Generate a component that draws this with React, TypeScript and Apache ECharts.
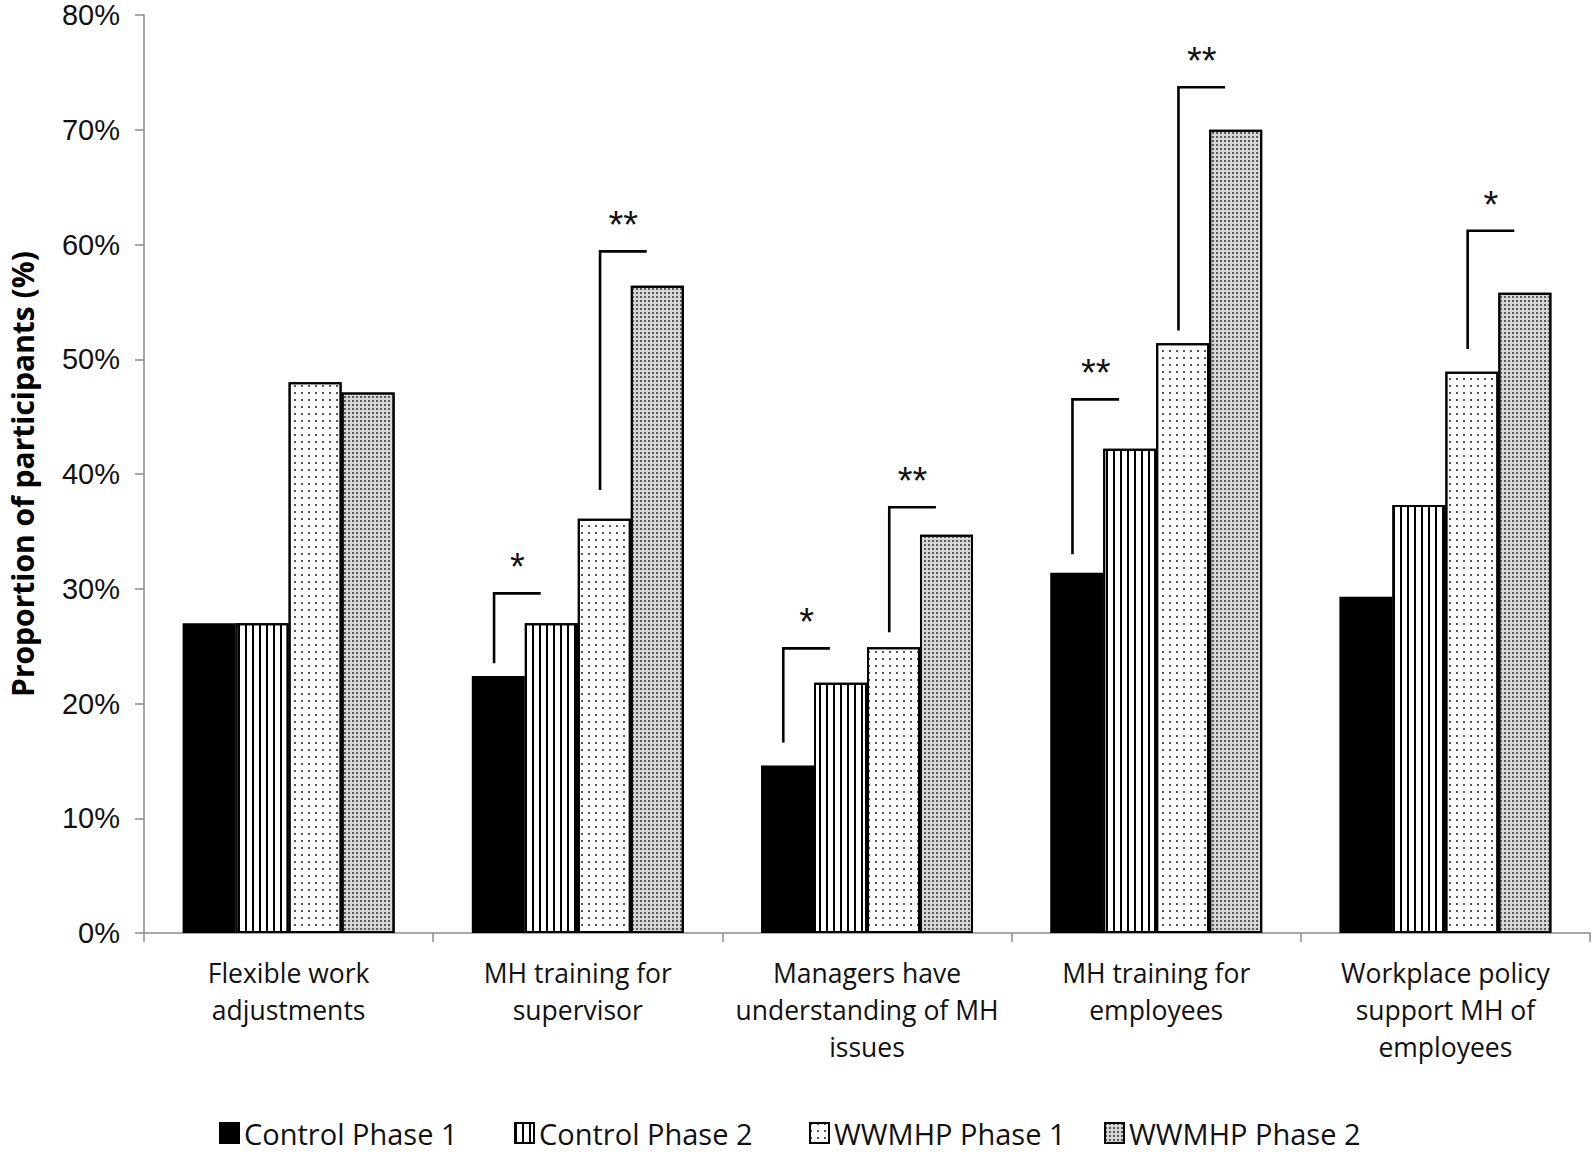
import React, { useEffect, useRef } from "react";
import * as echarts from "echarts";

const categories = [
  "Flexible work\nadjustments",
  "MH training for\nsupervisor",
  "Managers have\nunderstanding of MH\nissues",
  "MH training for\nemployees",
  "Workplace policy\nsupport MH of\nemployees",
];
const seriesNames = ["Control Phase 1", "Control Phase 2", "WWMHP Phase 1", "WWMHP Phase 2"];
const controlPhase1 = [27.0, 22.4, 14.6, 31.4, 29.3];
const controlPhase2 = [27.0, 27.0, 21.8, 42.2, 37.3];
const wwmhpPhase1 = [48.0, 36.1, 24.9, 51.4, 48.9];
const wwmhpPhase2 = [47.1, 56.4, 34.7, 70.0, 55.8];
const yTicks = [0, 10, 20, 30, 40, 50, 60, 70, 80];

// significance brackets: [category index, lower bar index, bracket bottom %, bracket top %]
const brackets = [
  [1, 0, 23.5, 29.6],
  [1, 2, 38.6, 59.4],
  [2, 0, 16.6, 24.8],
  [2, 2, 26.2, 37.1],
  [3, 0, 33.0, 46.5],
  [3, 2, 52.5, 73.7],
  [4, 2, 50.9, 61.2],
];
const bracketLabels = ["*", "**", "*", "**", "**", "**", "*"];

const CAT_GAP = 0.267;
const FONT = "Open Sans";

const styles = [
  { color: "#000000" },
  {
    color: "#ffffff",
    decal: { symbol: "rect", symbolSize: 1, color: "#000000", dashArrayX: [1.6, 4.2], dashArrayY: [10, 0] },
  },
  {
    color: "#ffffff",
    decal: { symbol: "rect", symbolSize: 1, color: "#555555", dashArrayX: [1.5, 4.4], dashArrayY: [1.5, 4.4] },
  },
  {
    color: "#d6d6d6",
    decal: { symbol: "rect", symbolSize: 1, color: "#5a5a5a", dashArrayX: [1.4, 1.6], dashArrayY: [1.4, 1.6] },
  },
];

const dataSets = [controlPhase1, controlPhase2, wwmhpPhase1, wwmhpPhase2];
const legendLefts = [219, 514, 809, 1104];

export default function App() {
  const ref = useRef<HTMLDivElement>(null);
  useEffect(() => {
    if (!ref.current) return;
    const chart = echarts.init(ref.current, undefined, { renderer: "svg" });
    const barSeries = dataSets.map((d, i) => ({
      name: seriesNames[i],
      type: "bar",
      data: d,
      barGap: "0%",
      barCategoryGap: CAT_GAP * 100 + "%",
      itemStyle: { ...styles[i], borderColor: "#000", borderWidth: 2 },
      emphasis: { disabled: true },
      z: 2,
    }));
    const bracketSeries = {
      type: "custom",
      data: brackets,
      encode: { x: 0, y: [2, 3] },
      z: 5,
      silent: true,
      renderItem: (params: any, api: any) => {
        const cat = api.value(0);
        const b = api.value(1);
        const center = api.coord([cat, 0]);
        const bandW = api.size([1, 0])[0];
        const bw = (bandW * (1 - CAT_GAP)) / 4;
        const left = center[0] - 2 * bw;
        const xv = left + b * bw + 0.42 * bw;
        const xh = left + (b + 1) * bw + 0.3 * bw;
        const yb = api.coord([cat, api.value(2)])[1];
        const yt = api.coord([cat, api.value(3)])[1];
        return {
          type: "group",
          children: [
            {
              type: "polyline",
              shape: { points: [[xv, yb], [xv, yt], [xh, yt]] },
              style: { stroke: "#000", lineWidth: 2.6, fill: null },
            },
            {
              type: "text",
              style: {
                text: bracketLabels[params.dataIndex],
                x: (xv + xh) / 2,
                y: yt - 26,
                align: "center",
                verticalAlign: "middle",
                fontSize: 38,
                fontFamily: "Liberation Sans",
                fill: "#111",
              },
            },
          ],
        };
      },
    };
    const legends = seriesNames.map((n, i) => ({
      data: [n],
      left: legendLefts[i],
      top: 1115,
      padding: 0,
      itemWidth: 19,
      itemHeight: 20,
      icon: "rect",
      selectedMode: false,
      textStyle: { fontFamily: FONT, fontSize: 29, lineHeight: 36, color: "#111" },
    }));
    chart.setOption({
      animation: false,
      backgroundColor: "#ffffff",
      grid: { left: 144, right: 5, top: 15, bottom: 219, containLabel: false, outerBoundsMode: "none" },
      legend: legends,
      xAxis: {
        type: "category",
        data: categories,
        axisLine: { lineStyle: { color: "#8c8c8c", width: 1.5 } },
        axisTick: { show: true, length: 9, interval: 0, lineStyle: { color: "#8c8c8c", width: 1.5 } },
        axisLabel: {
          interval: 0,
          margin: 21,
          fontFamily: FONT,
          fontSize: 26.5,
          lineHeight: 37,
          color: "#111",
        },
      },
      yAxis: {
        type: "value",
        min: yTicks[0],
        max: yTicks[yTicks.length - 1],
        interval: 10,
        name: "Proportion of participants (%)",
        nameLocation: "middle",
        nameGap: 107,
        nameTextStyle: { fontFamily: FONT, fontWeight: "bold", fontSize: 30, color: "#000" },
        axisLine: { show: true, lineStyle: { color: "#8c8c8c", width: 1.5 } },
        axisTick: { show: true, length: 9, lineStyle: { color: "#8c8c8c", width: 1.5 } },
        splitLine: { show: false },
        axisLabel: {
          formatter: "{value}%",
          margin: 24,
          fontFamily: "Liberation Sans",
          fontSize: 29,
          color: "#111",
        },
      },
      series: [...barSeries, bracketSeries],
    });
    return () => chart.dispose();
  }, []);
  return <div ref={ref} style={{ width: 1595, height: 1152, position: "absolute", left: 0, top: 0 }} />;
}
